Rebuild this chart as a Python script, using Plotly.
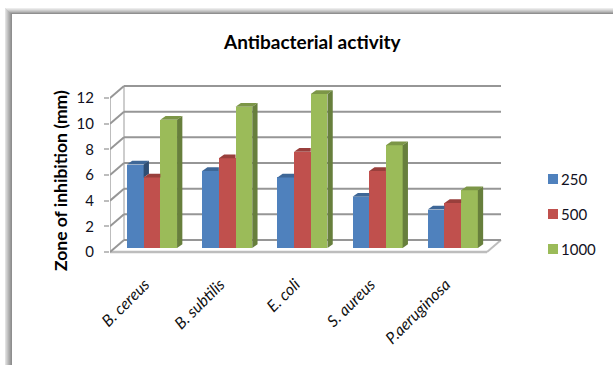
import plotly.graph_objects as go

categories = ["B. cereus", "B. subtilis", "E. coli", "S. aureus", "P.aeruginosa"]
series_names = ["250", "500", "1000"]
values_250 = [6.5, 6, 5.5, 4, 3]
values_500 = [5.5, 7, 7.5, 6, 3.5]
values_1000 = [10, 11, 12, 8, 4.5]
y_ticks = [0, 2, 4, 6, 8, 10, 12]
front_colors = ["#4f81bd", "#c0504d", "#9bbb59"]
top_colors = ["#3e6797", "#993f3c", "#7c9647"]
side_colors = ["#2f4e73", "#733130", "#677f3c"]

W, H = 613, 365
PX_X, PX_Y = 75.2, 12.83          # pixels per category, pixels per unit
X0_PX, Y0_PX = 152.0, 248.0       # pixel of category 0 centre / value 0 on bar base
L, R, T, B = 110.0, 510.0, 80.0, 271.0  # plot domain in pixels

BAR_W = 16.7 / PX_X
BAR_DX, BAR_DY = 5.3 / PX_X, 3.8 / PX_Y    # depth of a bar
FRONT = -4.0 / PX_Y                        # front floor edge relative to bars
BACK = 8.0 / PX_Y                          # back wall relative to bars
XL = (L - X0_PX) / PX_X
XR_F = (487 - X0_PX) / PX_X
WALL_DX = 14.0 / PX_X
LABEL_SHIFT = -7.0 / PX_X


def px(x):
    return x / W


def py(y):
    return 1 - y / H


fig = go.Figure()
all_values = [values_250, values_500, values_1000]

for s, name in enumerate(series_names):
    fig.add_trace(go.Bar(
        x=[i + (s - 1) * BAR_W for i in range(len(categories))],
        y=all_values[s], width=BAR_W, name=name,
        marker=dict(color=front_colors[s], line=dict(width=0)),
        showlegend=False, cliponaxis=False,
    ))


def poly(xs, ys, color):
    fig.add_trace(go.Scatter(
        x=xs + xs[:1], y=ys + ys[:1], mode="lines", fill="toself",
        fillcolor=color, line=dict(width=0, color=color),
        showlegend=False, hoverinfo="skip", cliponaxis=False,
    ))


for i in range(len(categories)):
    for s in range(3):
        v = all_values[s][i]
        nxt = all_values[s + 1][i] if s < 2 else 0
        xa = i + (s - 1) * BAR_W - BAR_W / 2
        xb = xa + BAR_W
        if nxt >= v and s < 2:
            # next bar hides the right part of the top face
            poly([xa, xb, xb, xa + BAR_DX], [v, v, v + BAR_DY, v + BAR_DY], top_colors[s])
        else:
            poly([xa, xb, xb + BAR_DX, xa + BAR_DX], [v, v, v + BAR_DY, v + BAR_DY], top_colors[s])
            poly([xb, xb + BAR_DX, xb + BAR_DX, xb],
                 [nxt, nxt + BAR_DY, v + BAR_DY, v], side_colors[s])

GRID = "#969696"
EDGE = "#bdbdbd"
shapes = [
    # floor
    dict(type="path", xref="x", yref="y", layer="below", fillcolor="#ffffff",
         line=dict(width=0),
         path=f"M{XL},{FRONT} L{XR_F},{FRONT} L{XR_F + WALL_DX},{BACK} L{XL + WALL_DX},{BACK} Z"),
    dict(type="line", xref="x", yref="y", layer="below", line=dict(color=EDGE, width=2.5),
         x0=XL, x1=XR_F, y0=FRONT, y1=FRONT),
    dict(type="line", xref="x", yref="y", layer="below", line=dict(color=EDGE, width=2),
         x0=XR_F, x1=XR_F + WALL_DX, y0=FRONT, y1=BACK),
    # vertical axis line and back-left wall edge
    dict(type="line", xref="x", yref="y", layer="below", line=dict(color=EDGE, width=2),
         x0=XL, x1=XL, y0=FRONT, y1=y_ticks[-1] + FRONT),
    dict(type="line", xref="x", yref="y", layer="below", line=dict(color=EDGE, width=1.5),
         x0=XL + WALL_DX, x1=XL + WALL_DX, y0=BACK, y1=y_ticks[-1] + BACK),
]
for v in y_ticks:
    shapes.append(dict(type="line", xref="x", yref="y", layer="below",
                       line=dict(color=GRID, width=2),
                       x0=XL, x1=XL + WALL_DX, y0=v + FRONT, y1=v + BACK))
    shapes.append(dict(type="line", xref="x", yref="y", layer="below",
                       line=dict(color=GRID, width=2),
                       x0=XL + WALL_DX, x1=XR_F + WALL_DX, y0=v + BACK, y1=v + BACK))

# grey bevelled frame round the chart
top_band = ["#ececec", "#dedede", "#cdcdcd", "#bcbcbc", "#a6a6a6", "#8f8f8f"]
left_band = ["#e2e2e2", "#d2d2d2", "#c4c4c4", "#b5b5b5", "#a8a8a8", "#9a9a9a", "#8e8e8e"]
for k, c in enumerate(top_band):
    shapes.append(dict(type="rect", xref="paper", yref="paper", layer="above", fillcolor=c,
                       line=dict(width=0), x0=px(5 + k), x1=1, y0=py(8 + k), y1=py(9 + k)))
for k, c in enumerate(left_band):
    shapes.append(dict(type="rect", xref="paper", yref="paper", layer="above", fillcolor=c,
                       line=dict(width=0), x0=px(5 + k), x1=px(6 + k), y0=0, y1=py(8 + k)))

# legend swatches and labels
legend_y = [179, 214, 249]
annotations = [
    dict(text="<b>Antibacterial activity</b>", xref="paper", yref="paper", x=px(313), y=py(42),
         xanchor="center", yanchor="middle", showarrow=False,
         font=dict(family="Lato", size=19, color="#000000")),
    dict(text="<b>Zone of inhibition (mm)</b>", xref="paper", yref="paper", x=px(60), y=py(181),
         xanchor="center", yanchor="middle", showarrow=False, textangle=-90,
         font=dict(family="Lato", size=17.5, color="#000000")),
]
for s, name in enumerate(series_names):
    shapes.append(dict(type="rect", xref="paper", yref="paper", layer="above",
                       fillcolor=front_colors[s], line=dict(width=0),
                       x0=px(548), x1=px(558), y0=py(legend_y[s] - 5), y1=py(legend_y[s] + 5)))
    annotations.append(dict(text=name, xref="paper", yref="paper", x=px(559), y=py(legend_y[s]),
                            xanchor="left", yanchor="middle", showarrow=False,
                            font=dict(family="Lato", size=15, color="#111122")))

fig.update_layout(
    width=W, height=H, margin=dict(l=0, r=0, t=0, b=0, autoexpand=False),
    paper_bgcolor="#ffffff", plot_bgcolor="#ffffff",
    barmode="overlay", bargap=0, showlegend=False,
    shapes=shapes, annotations=annotations,
    xaxis=dict(
        domain=[px(L), px(R)], range=[XL, (R - X0_PX) / PX_X],
        tickvals=[i + LABEL_SHIFT for i in range(len(categories))],
        ticktext=[f"<i>{c}</i>" for c in categories],
        tickangle=-45, ticks="", showgrid=False, zeroline=False, showline=False,
        tickfont=dict(family="Lato", size=16, color="#111111"),
    ),
    yaxis=dict(
        domain=[py(B), py(T)], range=[(Y0_PX - B) / PX_Y, (Y0_PX - T) / PX_Y],
        tickvals=[v + FRONT for v in y_ticks], ticktext=[str(v) for v in y_ticks],
        ticks="outside", ticklen=5, tickwidth=1.5, tickcolor=EDGE,
        ticklabelstandoff=7, showgrid=False, zeroline=False, showline=False,
        tickfont=dict(family="Lato", size=15, color="#111122"),
    ),
)
fig.write_html("out.html", post_script="document.body.style.margin='0';",
               config={"displayModeBar": False})
